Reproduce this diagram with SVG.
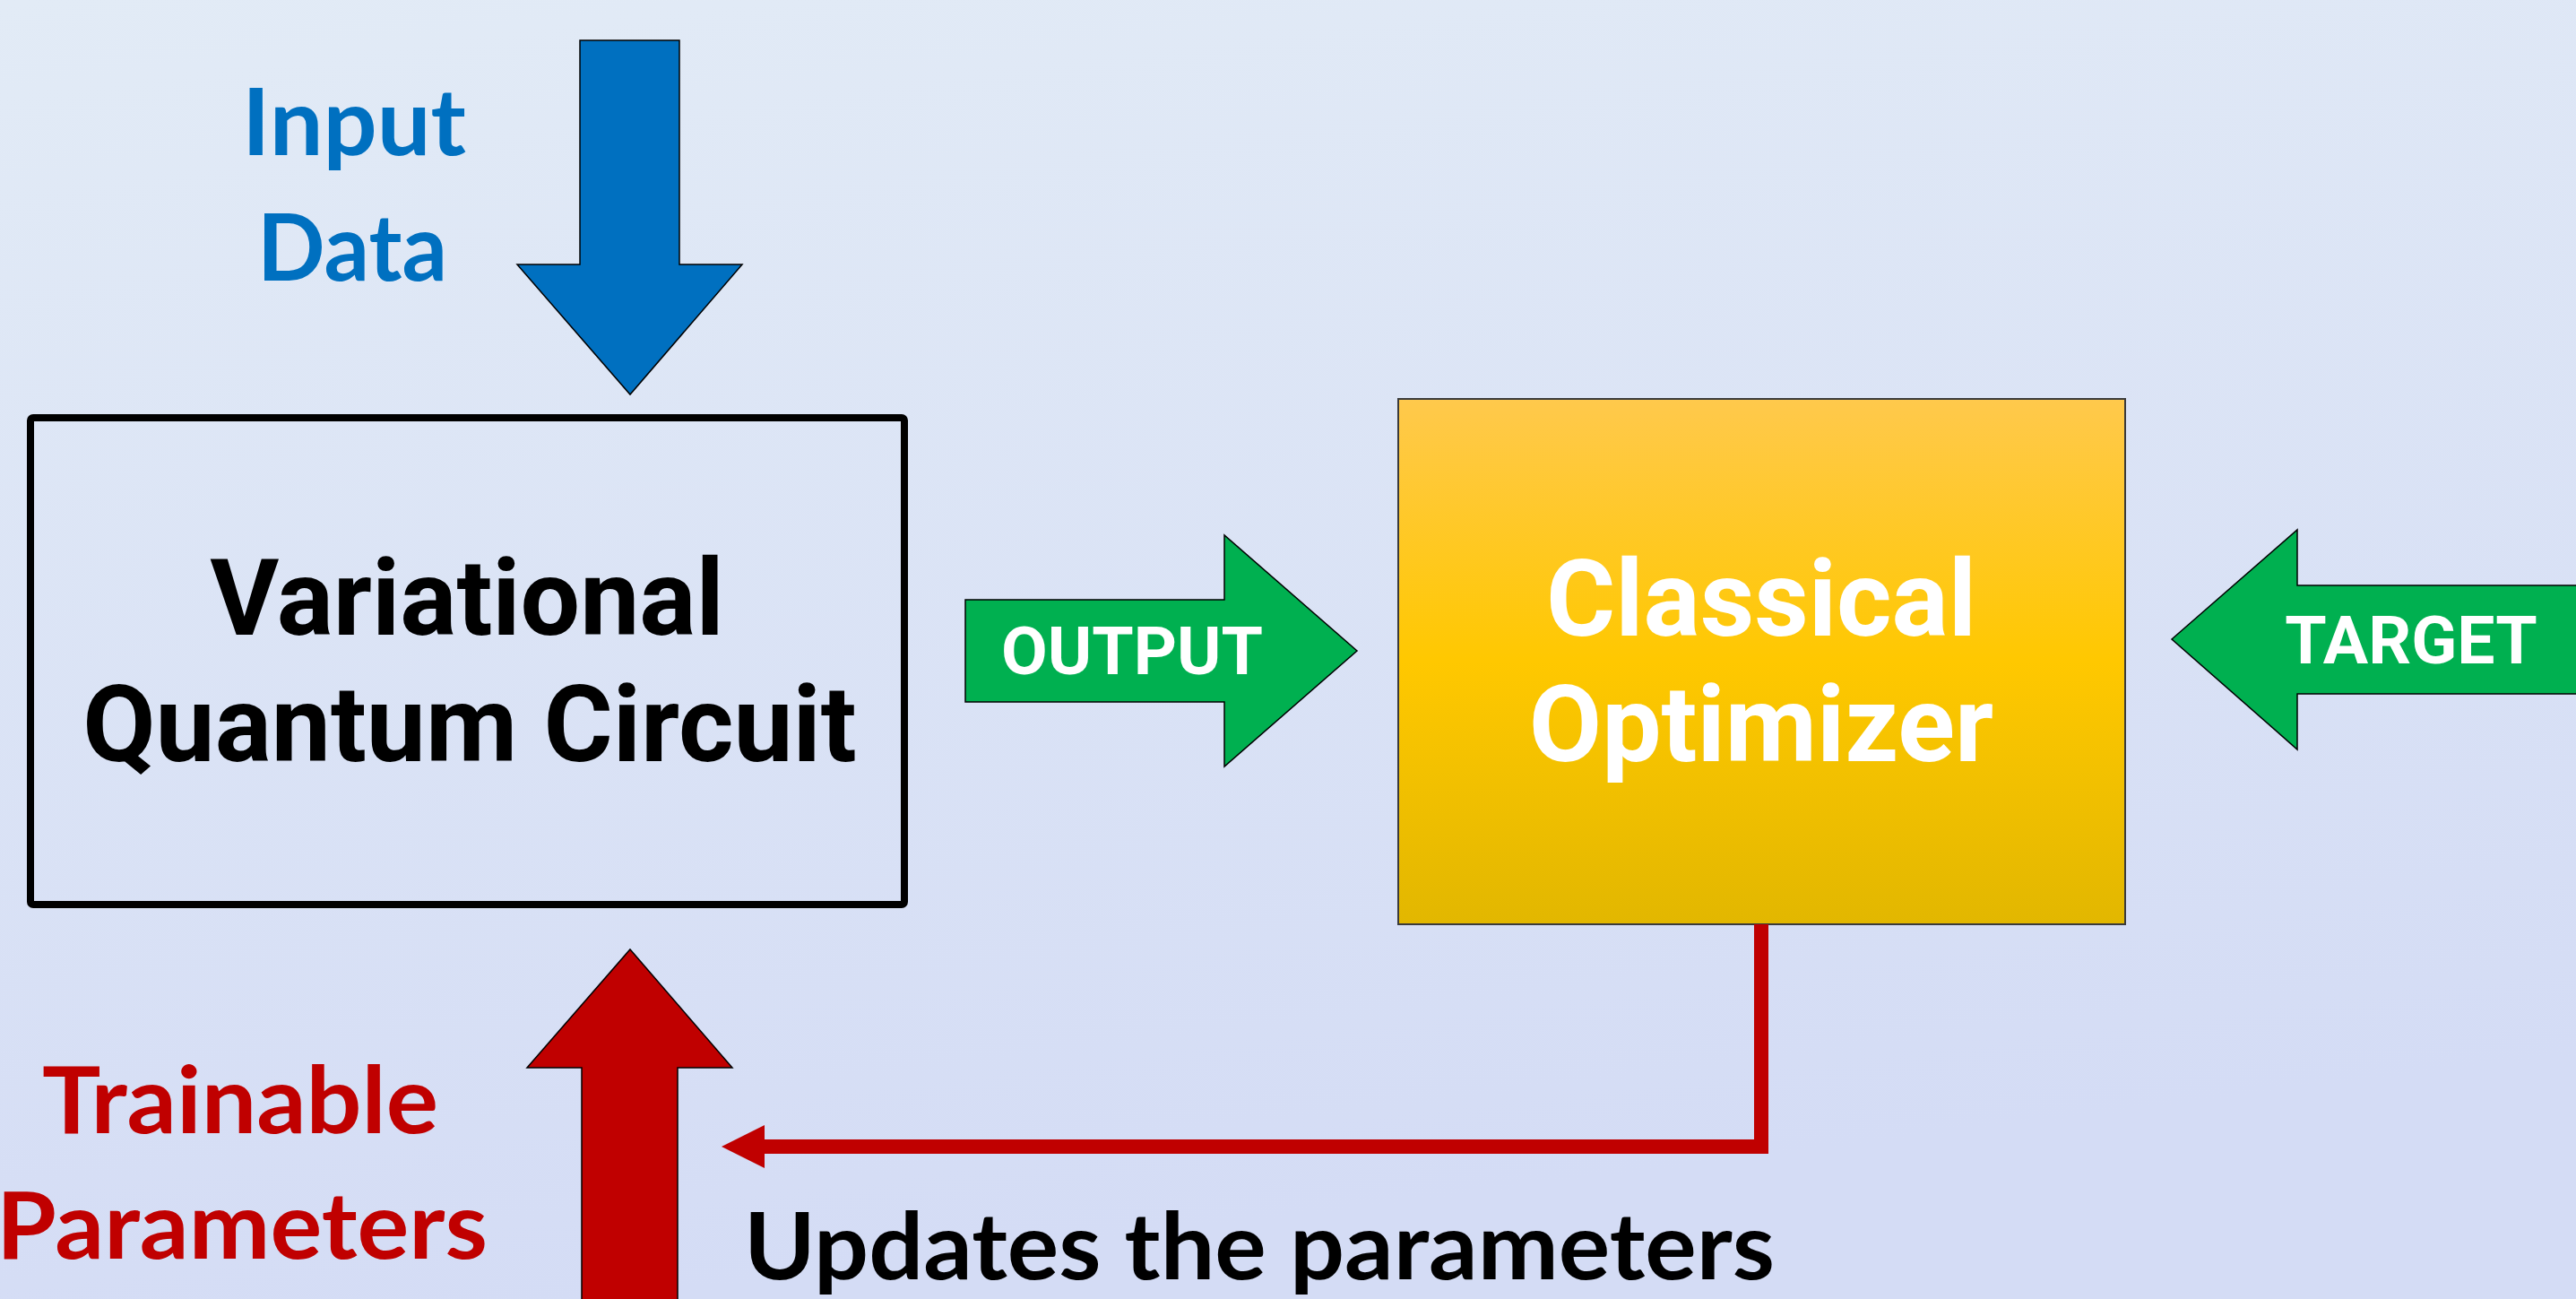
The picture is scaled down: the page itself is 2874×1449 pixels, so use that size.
<svg xmlns="http://www.w3.org/2000/svg" width="2874" height="1449" viewBox="0 0 2874 1449">
  <defs>
    <linearGradient id="bg" x1="0" y1="0" x2="0.25" y2="1">
      <stop offset="0" stop-color="#E2EBF6"/>
      <stop offset="1" stop-color="#D4DCF5"/>
    </linearGradient>
    <linearGradient id="gold" x1="0" y1="0" x2="0" y2="1">
      <stop offset="0" stop-color="#FFC94C"/>
      <stop offset="0.5" stop-color="#FFC800"/>
      <stop offset="1" stop-color="#E2B700"/>
    </linearGradient>
    <marker id="redhead" viewBox="0 0 48 48" markerUnits="userSpaceOnUse" markerWidth="48" markerHeight="48" refX="0" refY="24" orient="auto">
      <path d="M0,0 L48,24 L0,48 Z" fill="#C00000"/>
    </marker>
    <style>
      .title { font-family: Roboto, "Liberation Sans", sans-serif; font-weight: 700; font-size: 118px; text-anchor: middle; }
      .tag { font-family: Roboto, "Liberation Sans", sans-serif; font-weight: 700; font-size: 75px; fill: #FFFFFF; text-anchor: middle; }
      .cal { font-family: Lato, "Open Sans", sans-serif; font-weight: 700; font-size: 104px; }
      .block { stroke: #000000; stroke-width: 1.5; }
      .green { fill: #00B050; stroke: #000000; stroke-width: 1.5; }
    </style>
  </defs>

  <rect x="0" y="0" width="2874" height="1449" fill="url(#bg)"/>

  <g id="input-data">
    <polygon class="block" fill="#0070C0" points="647,45 758,45 758,295 828,295 703,440 577,295 647,295"/>
    <text class="cal" fill="#0070C0" x="395" y="173" text-anchor="middle" textLength="250" lengthAdjust="spacingAndGlyphs">Input</text>
    <text class="cal" fill="#0070C0" x="393" y="313" text-anchor="middle" textLength="212" lengthAdjust="spacingAndGlyphs">Data</text>
  </g>

  <g id="vqc">
    <rect x="34" y="466" width="975" height="543" rx="3" fill="none" stroke="#000000" stroke-width="8"/>
    <text class="title" fill="#000000" x="521" y="708">Variational</text>
    <text class="title" fill="#000000" x="524" y="849">Quantum Circuit</text>
  </g>

  <g id="output">
    <polygon class="green" points="1077,669 1366,669 1366,597 1514,726 1366,855 1366,783 1077,783"/>
    <text class="tag" x="1263" y="752">OUTPUT</text>
  </g>

  <g id="optimizer">
    <rect x="1560" y="445" width="811" height="586" fill="url(#gold)" stroke="#3A3A3A" stroke-width="2"/>
    <text class="title" fill="#FFFFFF" x="1965" y="709">Classical</text>
    <text class="title" fill="#FFFFFF" x="1965" y="849">Optimizer</text>
  </g>

  <g id="target">
    <polygon class="green" points="2423,713 2563,591 2563,653 2890,653 2890,774 2563,774 2563,836"/>
    <text class="tag" x="2690" y="740">TARGET</text>
  </g>

  <g id="trainable-parameters">
    <polygon class="block" fill="#C00000" points="703,1059 817,1191 756,1191 756,1460 649,1460 649,1191 588,1191"/>
    <text class="cal" fill="#C00000" x="268" y="1264" text-anchor="middle" textLength="442" lengthAdjust="spacingAndGlyphs">Trainable</text>
    <text class="cal" fill="#C00000" x="270" y="1404" text-anchor="middle" textLength="548" lengthAdjust="spacingAndGlyphs">Parameters</text>
  </g>

  <g id="connectors">
    <polyline points="1965,1031 1965,1279 853,1279" fill="none" stroke="#C00000" stroke-width="16" stroke-linejoin="miter" marker-end="url(#redhead)"/>
    <text class="cal" fill="#000000" x="830" y="1427" textLength="1150" lengthAdjust="spacingAndGlyphs">Updates the parameters</text>
  </g>
</svg>
